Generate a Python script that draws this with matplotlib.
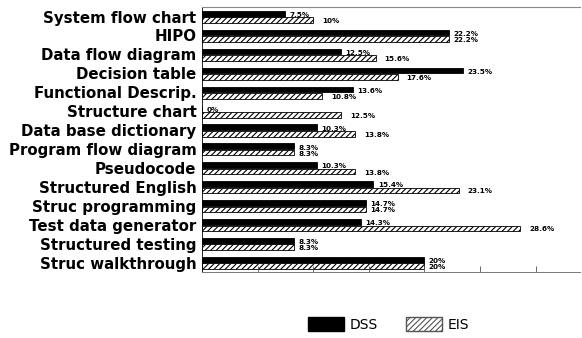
import numpy as np
import matplotlib
matplotlib.use('Agg')
import matplotlib.pyplot as plt
from matplotlib.patches import Patch

plt.rcParams['font.family'] = ['DejaVu Sans']
plt.rcParams['hatch.linewidth'] = 0.8

categories = ['System flow chart', 'HIPO', 'Data flow diagram', 'Decision table',
              'Functional Descrip.', 'Structure chart', 'Data base dictionary',
              'Program flow diagram', 'Pseudocode', 'Structured English',
              'Struc programming', 'Test data generator', 'Structured testing',
              'Struc walkthrough']
dss = [7.5, 22.2, 12.5, 23.5, 13.6, 0, 10.3, 8.3, 10.3, 15.4, 14.7, 14.3, 8.3, 20]
eis = [10, 22.2, 15.6, 17.6, 10.8, 12.5, 13.8, 8.3, 13.8, 23.1, 14.7, 28.6, 8.3, 20]


def fmt(v):
    return f'{v:g}%'


fig = plt.figure(figsize=(5.82, 3.38), dpi=100)
ax = fig.add_axes([0.347, 0.195, 0.65, 0.784])

y = np.arange(len(categories))
h = 0.3
ax.barh(y - 0.15, dss, h, color='black', edgecolor='black', linewidth=0.6)
ax.barh(y + 0.19, eis, h, color='white', edgecolor='black', hatch='//////', linewidth=0.6)

for i in range(len(categories)):
    ax.text(dss[i] + 0.4, y[i] - 0.08, fmt(dss[i]), fontsize=5.2, fontweight='bold',
            ha='left', va='center')
    ax.text(eis[i] + 0.8 if eis[i] != dss[i] else eis[i] + 0.4, y[i] + 0.24, fmt(eis[i]),
            fontsize=5.2, fontweight='bold', ha='left', va='center')

ax.set_xlim(0, 34)
ax.set_ylim(len(categories) - 0.5, -0.5)
ax.set_yticks(y)
ax.set_yticklabels(categories, fontsize=10.8, fontweight='bold')
ax.tick_params(axis='y', length=0, pad=4)
ax.set_xticks(np.arange(0, 31, 5))
ax.set_xticklabels([])
ax.tick_params(axis='x', direction='in', length=4, width=0.6, color='#555555')

ax.spines['right'].set_visible(False)
ax.spines['top'].set_color('#888888')
ax.spines['top'].set_linewidth(0.8)
ax.spines['bottom'].set_color('#777777')
ax.spines['bottom'].set_linewidth(0.7)
ax.spines['bottom'].set_linestyle((0, (6, 1)))
ax.spines['left'].set_linewidth(0.6)

handles = [Patch(facecolor='black', edgecolor='black', label='DSS'),
           Patch(facecolor='white', edgecolor='#555555', hatch='//////', label='EIS')]
fig.legend(handles=handles, loc='center', bbox_to_anchor=(0.668, 0.04), ncol=2,
           frameon=False, fontsize=10, handlelength=2.6, handleheight=1.1,
           columnspacing=2.0, handletextpad=0.4)

fig.savefig('out.png', dpi=100)
